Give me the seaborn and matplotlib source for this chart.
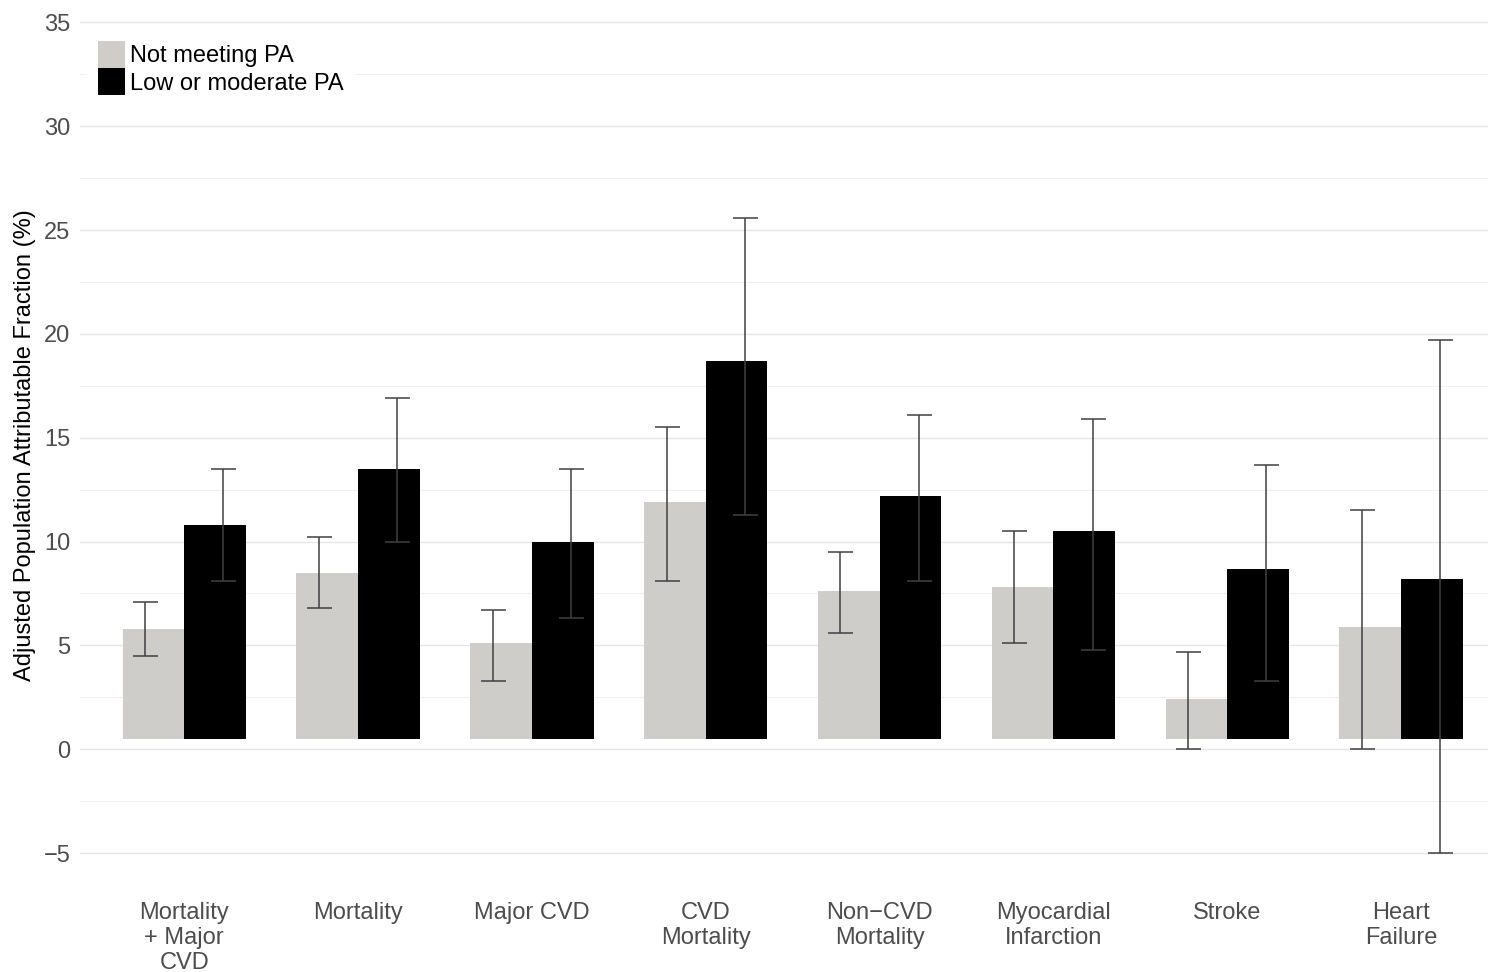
import matplotlib
matplotlib.use("Agg")
import matplotlib.pyplot as plt
import seaborn as sns
import pandas as pd
import numpy as np
from matplotlib.patches import Patch
from matplotlib.ticker import MultipleLocator

categories = ["Mortality\n+ Major\nCVD", "Mortality", "Major CVD", "CVD\nMortality",
              "Non\u2212CVD\nMortality", "Myocardial\nInfarction", "Stroke", "Heart\nFailure"]
groups = ["Not meeting PA", "Low or moderate PA"]
not_meeting = [5.8, 8.5, 5.1, 11.9, 7.6, 7.8, 2.4, 5.9]
not_meeting_lo = [4.5, 6.8, 3.3, 8.1, 5.6, 5.1, 0.0, 0.0]
not_meeting_hi = [7.1, 10.2, 6.7, 15.5, 9.5, 10.5, 4.7, 11.5]
low_mod = [10.8, 13.5, 10.0, 18.7, 12.2, 10.5, 8.7, 8.2]
low_mod_lo = [8.1, 10.0, 6.3, 11.3, 8.1, 4.8, 3.3, -5.0]
low_mod_hi = [13.5, 16.9, 13.5, 25.6, 16.1, 15.9, 13.7, 19.7]
bar_base = 0.5

df = pd.DataFrame({
    "outcome": categories * 2,
    "group": [groups[0]] * len(categories) + [groups[1]] * len(categories),
    "value": not_meeting + low_mod,
})

sns.set_theme(style="white")
plt.rcParams["font.family"] = ["Liberation Sans", "DejaVu Sans"]

fig = plt.figure(figsize=(14.88, 9.72), dpi=100)
ax = fig.add_axes([80 / 1488, 92 / 972, 1 - 80 / 1488, (880 - 10) / 972])

colors = ["#d0cdc9", "#000000"]
sns.barplot(data=df, x="outcome", y="value", hue="group", hue_order=groups,
            order=categories, palette=colors, width=0.71, errorbar=None,
            edgecolor="none", linewidth=0, ax=ax, legend=False, zorder=2)

for p in ax.patches:
    top = p.get_y() + p.get_height()
    p.set_y(bar_base)
    p.set_height(top - bar_base)

x = np.arange(len(categories))
off = 0.225
for xs, vals, lo, hi in [(x - off, not_meeting, not_meeting_lo, not_meeting_hi),
                         (x + off, low_mod, low_mod_lo, low_mod_hi)]:
    vals = np.array(vals); lo = np.array(lo); hi = np.array(hi)
    ax.errorbar(xs, vals, yerr=[vals - lo, hi - vals], fmt="none",
                ecolor="#404040", elinewidth=1.1, capsize=9, capthick=1.1, zorder=3)

ax.set_xlim(-0.6, 7.5)
ax.set_ylim(-6.3, 35.6)
ax.yaxis.set_minor_locator(MultipleLocator(2.5))
ax.set_yticks([-5, 0, 5, 10, 15, 20, 25, 30, 35])
ax.set_yticklabels(["\u22125", "0", "5", "10", "15", "20", "25", "30", "35"])
ax.grid(axis="y", which="major", color="#e6e6e6", linewidth=1.0, zorder=0)
ax.grid(axis="y", which="minor", color="#f0f0f0", linewidth=0.8, zorder=0)
ax.grid(axis="x", visible=False)
ax.set_axisbelow(True)
for s in ax.spines.values():
    s.set_visible(False)
ax.tick_params(axis="both", which="both", length=0, labelsize=17, labelcolor="#4d4d4d")
ax.tick_params(axis="y", pad=7)
ax.tick_params(axis="x", pad=16)
for t in ax.get_xticklabels():
    t.set_linespacing(1.18)
ax.set_xlabel("")
ax.set_ylabel("Adjusted Population Attributable Fraction (%)", fontsize=17, color="black", labelpad=5)

handles = [Patch(facecolor=c, edgecolor="none", label=g) for c, g in zip(colors, groups)]
leg = ax.legend(handles=handles, loc="upper left", bbox_to_anchor=(0.0, 0.985),
                frameon=True, fontsize=17, handlelength=1.15, handleheight=1.4,
                labelspacing=0.0, handletextpad=0.2, borderpad=0.45, borderaxespad=0.3,
                fancybox=False)
for t in leg.get_texts():
    t.set_color("black")
leg.get_frame().set_facecolor("white")
leg.get_frame().set_edgecolor("white")
leg.get_frame().set_alpha(1.0)
leg.set_zorder(5)

fig.savefig("out.png", dpi=100)
